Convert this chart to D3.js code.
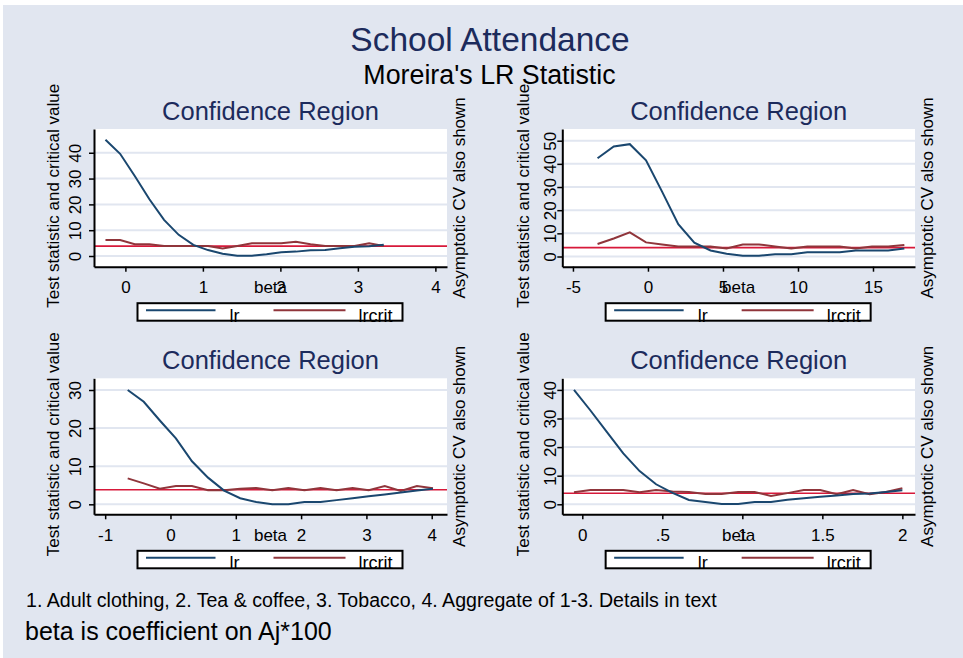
<!DOCTYPE html>
<html>
<head>
<meta charset="utf-8">
<script src="https://cdn.jsdelivr.net/npm/d3@7"></script>
<style>
  html, body { margin: 0; padding: 0; background: #ffffff; }
  svg text { font-family: "Liberation Sans", Arial, Helvetica, sans-serif; }
</style>
</head>
<body>
<svg id="chart" width="963" height="658"></svg>
<script>
// ---------- DATA ----------
const mainTitle = "School Attendance";
const subTitle = "Moreira's LR Statistic";
const panelTitle = "Confidence Region";
const yTitle = "Test statistic and critical value";
const rightTitle = "Asymptotic CV also shown";
const xTitle = "beta";
const seriesNames = ["lr", "lrcrit"];
const note1 = "1. Adult clothing, 2. Tea & coffee, 3. Tobacco, 4. Aggregate of 1-3. Details in text";
const note2 = "beta is coefficient on Aj*100";
const asymptoticCV = 3.84;

// Panel 1: Adult clothing
const beta1 = [-0.257, -0.068, 0.121, 0.310, 0.499, 0.688, 0.877, 1.066, 1.255, 1.444, 1.633, 1.822, 2.011, 2.200, 2.389, 2.578, 2.767, 2.956, 3.145, 3.334];
const lr1 = [45.0, 39.6, 31.0, 22.0, 14.0, 8.2, 4.3, 2.3, 0.9, 0.1, 0.1, 0.7, 1.5, 1.7, 2.2, 2.3, 3.0, 3.6, 3.8, 4.4];
const crit1 = [6.2, 6.2, 4.6, 4.6, 3.9, 3.9, 3.9, 3.9, 2.9, 3.9, 4.9, 4.9, 4.9, 5.5, 4.6, 3.9, 3.9, 3.9, 4.9, 3.9];
const xTicks1 = [0, 1, 2, 3, 4];
const xTickLabels1 = ["0", "1", "2", "3", "4"];
const yTicks1 = [0, 10, 20, 30, 40];

// Panel 2: Tea & coffee
const beta2 = [-3.36, -2.28, -1.21, -0.13, 0.94, 2.02, 3.09, 4.17, 5.24, 6.32, 7.40, 8.47, 9.55, 10.62, 11.70, 12.78, 13.85, 14.93, 16.01, 17.09];
const lr2 = [42.4, 47.5, 48.5, 41.5, 28.0, 14.0, 6.0, 2.6, 1.2, 0.3, 0.3, 1.0, 1.0, 1.8, 1.8, 1.8, 2.6, 2.6, 2.6, 3.5];
const crit2 = [5.4, 7.8, 10.4, 6.1, 5.2, 4.3, 4.3, 4.3, 3.5, 5.2, 5.2, 4.3, 3.5, 4.3, 4.3, 4.3, 3.5, 4.3, 4.3, 5.0];
const xTicks2 = [-5, 0, 5, 10, 15];
const xTickLabels2 = ["-5", "0", "5", "10", "15"];
const yTicks2 = [0, 10, 20, 30, 40, 50];

// Panel 3: Tobacco
const beta3 = [-0.655, -0.409, -0.163, 0.083, 0.329, 0.575, 0.821, 1.067, 1.313, 1.559, 1.805, 2.051, 2.297, 2.543, 2.789, 3.035, 3.281, 3.527, 3.773, 4.019];
const lr3 = [30.0, 26.9, 22.0, 17.3, 11.3, 7.0, 3.6, 1.6, 0.6, 0.05, 0.05, 0.6, 0.6, 1.1, 1.6, 2.1, 2.6, 3.1, 3.6, 4.1];
const crit3 = [6.8, 5.5, 4.1, 4.8, 4.8, 3.7, 3.7, 4.1, 4.3, 3.7, 4.3, 3.7, 4.3, 3.7, 4.3, 3.7, 4.8, 3.5, 4.8, 4.2];
const xTicks3 = [-1, 0, 1, 2, 3, 4];
const xTickLabels3 = ["-1", "0", "1", "2", "3", "4"];
const yTicks3 = [0, 10, 20, 30];

// Panel 4: Aggregate of 1-3
const beta4 = [-0.052, 0.051, 0.153, 0.256, 0.358, 0.461, 0.564, 0.666, 0.769, 0.871, 0.974, 1.077, 1.179, 1.282, 1.384, 1.487, 1.590, 1.692, 1.795, 1.897, 2.000];
const lr4 = [40.0, 32.8, 25.3, 17.8, 11.6, 7.0, 4.0, 1.5, 0.8, 0.1, 0.1, 0.8, 0.8, 1.6, 2.1, 2.6, 3.1, 3.6, 3.8, 4.3, 4.9];
const crit4 = [4.2, 5.0, 5.0, 5.0, 4.2, 5.0, 4.5, 4.3, 3.6, 3.6, 4.3, 4.3, 2.9, 3.9, 5.0, 5.0, 3.5, 5.0, 3.5, 4.3, 5.6];
const xTicks4 = [0, 0.5, 1, 1.5, 2];
const xTickLabels4 = ["0", ".5", "1", "1.5", "2"];
const yTicks4 = [0, 10, 20, 30, 40];

// ---------- LAYOUT / STYLE ----------
const W = 963, H = 658;
const FONT = "'Liberation Sans', Arial, Helvetica, sans-serif";
const C = {
  bg: "#e1e6f0", plot: "#ffffff", grid: "#e1e6f0",
  title: "#1c2b5c", lr: "#1a476f", crit: "#90353b", asym: "#d7193a", axis: "#000000"
};

const panels = [
  { beta: beta1, lr: lr1, crit: crit1, xTicks: xTicks1, xLab: xTickLabels1, yTicks: yTicks1,
    xDom: [-0.405, 4.15], yDom: [-4.14, 49.2], L: 94, R: 447, T: 129, B: 266.7, yLabOff: 13, yTitleX: 59 },
  { beta: beta2, lr: lr2, crit: crit2, xTicks: xTicks2, xLab: xTickLabels2, yTicks: yTicks2,
    xDom: [-5.71, 17.8], yDom: [-4.4, 55.05], L: 562.3, R: 915, T: 129, B: 266.7, yLabOff: 6, yTitleX: 529 },
  { beta: beta3, lr: lr3, crit: crit3, xTicks: xTicks3, xLab: xTickLabels3, yTicks: yTicks3,
    xDom: [-1.171, 4.234], yDom: [-2.62, 33.07], L: 94, R: 447, T: 378.3, B: 514.3, yLabOff: 13, yTitleX: 59 },
  { beta: beta4, lr: lr4, crit: crit4, xTicks: xTicks4, xLab: xTickLabels4, yTicks: yTicks4,
    xDom: [-0.125, 2.079], yDom: [-3.5, 44.06], L: 562.3, R: 915, T: 378.3, B: 514.3, yLabOff: 6, yTitleX: 529 }
];

const svg = d3.select("#chart");
svg.append("rect").attr("x", 0).attr("y", 0).attr("width", W).attr("height", H).attr("fill", "#ffffff");
svg.append("rect").attr("x", 3).attr("y", 5).attr("width", W - 3).attr("height", H - 5).attr("fill", C.bg);

svg.append("text").attr("x", 490).attr("y", 51).attr("text-anchor", "middle")
  .attr("font-size", 33.5).attr("fill", C.title).text(mainTitle);
svg.append("text").attr("x", 489.5).attr("y", 84).attr("text-anchor", "middle")
  .attr("font-size", 26.8).attr("fill", "#000").text(subTitle);

panels.forEach(p => {
  const g = svg.append("g");
  const x = d3.scaleLinear().domain(p.xDom).range([p.L, p.R]);
  const y = d3.scaleLinear().domain(p.yDom).range([p.B, p.T]);
  const cx = (p.L + p.R) / 2, cy = (p.T + p.B) / 2;

  // plot region
  g.append("rect").attr("x", p.L).attr("y", p.T).attr("width", p.R - p.L).attr("height", p.B - p.T).attr("fill", C.plot);

  // gridlines
  g.selectAll(".grid").data(p.yTicks).join("line")
    .attr("x1", p.L).attr("x2", p.R).attr("y1", d => y(d)).attr("y2", d => y(d))
    .attr("stroke", C.grid).attr("stroke-width", 2);

  // asymptotic CV line
  g.append("line").attr("x1", p.L).attr("x2", p.R).attr("y1", y(asymptoticCV)).attr("y2", y(asymptoticCV))
    .attr("stroke", C.asym).attr("stroke-width", 1.6);

  const line = d3.line().x(d => x(d[0])).y(d => y(d[1]));
  g.append("path").datum(p.beta.map((b, i) => [b, p.crit[i]])).attr("d", line)
    .attr("fill", "none").attr("stroke", C.crit).attr("stroke-width", 2);
  g.append("path").datum(p.beta.map((b, i) => [b, p.lr[i]])).attr("d", line)
    .attr("fill", "none").attr("stroke", C.lr).attr("stroke-width", 2);

  // x axis
  const xa = g.append("g").attr("transform", `translate(0,${p.B})`)
    .call(d3.axisBottom(x).tickValues(p.xTicks).tickFormat((d, i) => p.xLab[i]).tickSize(5).tickSizeOuter(0));
  xa.select(".domain").attr("stroke", C.axis).attr("stroke-width", 2);
  xa.selectAll(".tick line").attr("stroke", C.axis).attr("stroke-width", 1.5);
  xa.selectAll(".tick text").attr("y", 26.6).attr("dy", 0).attr("font-size", 17)
    .attr("font-family", FONT).attr("fill", "#000");

  // y axis
  const ya = g.append("g").attr("transform", `translate(${p.L},0)`)
    .call(d3.axisLeft(y).tickValues(p.yTicks).tickSize(5).tickSizeOuter(0));
  ya.select(".domain").attr("stroke", C.axis).attr("stroke-width", 2);
  ya.selectAll(".tick line").attr("stroke", C.axis).attr("stroke-width", 1.5);
  ya.selectAll(".tick text").attr("x", 0).attr("y", -p.yLabOff).attr("dy", 0)
    .attr("text-anchor", "middle").attr("transform", "rotate(-90)")
    .attr("font-size", 17).attr("font-family", FONT).attr("fill", "#000");

  // axis titles
  g.append("text").attr("x", cx).attr("y", p.B + 26.6).attr("text-anchor", "middle")
    .attr("font-size", 17).attr("fill", "#000").text(xTitle);
  g.append("text").attr("transform", `translate(${p.yTitleX},${cy - 2}) rotate(-90)`)
    .attr("text-anchor", "middle").attr("font-size", 17).attr("fill", "#000").text(yTitle);
  g.append("text").attr("transform", `translate(${p.R + 18},${cy}) rotate(-90)`)
    .attr("text-anchor", "middle").attr("font-size", 17).attr("fill", "#000").text(rightTitle);

  // panel title
  g.append("text").attr("x", cx).attr("y", p.T - 9).attr("text-anchor", "middle")
    .attr("font-size", 25.5).attr("fill", C.title).text(panelTitle);

  // legend
  const lx = cx - 133, ly = p.B + 36.5, lw = 265, lh = 17.5;
  const lg = g.append("g");
  lg.append("rect").attr("x", lx).attr("y", ly).attr("width", lw).attr("height", lh).attr("fill", "#fff");
  lg.append("line").attr("x1", lx + 8.5).attr("x2", lx + 78).attr("y1", ly + 7).attr("y2", ly + 7)
    .attr("stroke", C.lr).attr("stroke-width", 2);
  lg.append("text").attr("x", lx + 92).attr("y", ly + lh + 1).attr("font-size", 18).attr("fill", "#000").text(seriesNames[0]);
  lg.append("line").attr("x1", lx + 136).attr("x2", lx + 208).attr("y1", ly + 7).attr("y2", ly + 7)
    .attr("stroke", C.crit).attr("stroke-width", 2);
  lg.append("text").attr("x", lx + 221).attr("y", ly + lh + 1).attr("font-size", 18).attr("fill", "#000").text(seriesNames[1]);
  lg.append("rect").attr("x", lx).attr("y", ly).attr("width", lw).attr("height", lh)
    .attr("fill", "none").attr("stroke", "#000").attr("stroke-width", 2);
});

svg.append("text").attr("x", 26).attr("y", 607).attr("font-size", 19.6).attr("fill", "#000").text(note1);
svg.append("text").attr("x", 25).attr("y", 640).attr("font-size", 25).attr("fill", "#000").text(note2);
</script>
</body>
</html>
